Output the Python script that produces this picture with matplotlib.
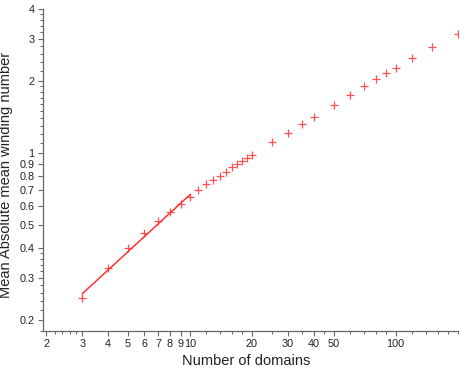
import numpy as np
import matplotlib
matplotlib.use("Agg")
import matplotlib.pyplot as plt
import matplotlib.ticker as mticker

plt.rcParams["font.family"] = ["Liberation Sans", "DejaVu Sans"]

# data
domains = [3, 4, 5, 6, 7, 8, 9, 10, 11, 12, 13, 14, 15, 16, 17, 18, 19, 20,
           25, 30, 35, 40, 50, 60, 70, 80, 90, 100, 120, 150, 200]
winding = [0.247, 0.329, 0.402, 0.464, 0.521, 0.567, 0.612, 0.653, 0.697,
           0.740, 0.770, 0.801, 0.833, 0.870, 0.899, 0.926, 0.953, 0.981,
           1.112, 1.212, 1.322, 1.415, 1.587, 1.749, 1.908, 2.04, 2.16,
           2.27, 2.50, 2.78, 3.15]

# power-law fit over the small-N range (end points)
fit_x = [3, 10]
fit_y = [0.258, 0.669]

x_major = [2, 3, 4, 5, 6, 7, 8, 9, 10, 20, 30, 40, 50, 100]
x_minor = [2.2, 2.4, 2.6, 2.8, 12, 14, 16, 18, 25, 35, 45, 60, 70, 80, 90,
           120, 140, 160, 180, 200]
y_major = [0.2, 0.3, 0.4, 0.5, 0.6, 0.7, 0.8, 0.9, 1, 2, 3, 4]
y_minor = [0.18, 0.22, 0.24, 0.26, 0.28, 0.32, 0.34, 0.36, 0.38,
           1.1, 1.2, 1.3, 1.4, 1.5, 1.6, 1.7, 1.8, 1.9,
           2.2, 2.4, 2.6, 2.8, 3.2, 3.4, 3.6, 3.8]

red = "#ff3333"
grey = "#666666"

fig = plt.figure(figsize=(4.69, 3.74), dpi=100)
ax = fig.add_axes([43 / 469, 43 / 374, 415 / 469, 322 / 374])

ax.plot(domains, winding, "+", color=red, ms=6, mew=0.9, alpha=0.85)
ax.plot(fit_x, fit_y, "-", color=red, lw=1.1)

ax.set_xscale("log")
ax.set_yscale("log")
ax.set_xlim(1.93, 201)
ax.set_ylim(0.18, 4)

ax.xaxis.set_major_locator(mticker.FixedLocator(x_major))
ax.xaxis.set_minor_locator(mticker.FixedLocator(x_minor))
ax.yaxis.set_major_locator(mticker.FixedLocator(y_major))
ax.yaxis.set_minor_locator(mticker.FixedLocator(y_minor))
ax.xaxis.set_major_formatter(mticker.FixedFormatter([str(v) for v in x_major]))
ax.yaxis.set_major_formatter(mticker.FixedFormatter([f"{v:g}" for v in y_major]))
ax.xaxis.set_minor_formatter(mticker.NullFormatter())
ax.yaxis.set_minor_formatter(mticker.NullFormatter())

for s in ["top", "right"]:
    ax.spines[s].set_visible(False)
for s in ["left", "bottom"]:
    ax.spines[s].set_color(grey)
    ax.spines[s].set_linewidth(0.9)

ax.tick_params(which="major", direction="out", length=3.5, width=0.8,
               color=grey, labelsize=7.8, labelcolor="#222222", pad=2.5)
ax.tick_params(which="minor", direction="out", length=2.2, width=0.7,
               color=grey)

ax.set_xlabel("Number of domains", fontsize=10.5, color="#222222")
ax.set_ylabel("Mean Absolute mean winding number", fontsize=10.5,
              color="#222222")
ax.xaxis.set_label_coords(0.489, -0.072)
ax.yaxis.set_label_coords(-0.072, 0.484)

fig.savefig("out.png", dpi=100)
